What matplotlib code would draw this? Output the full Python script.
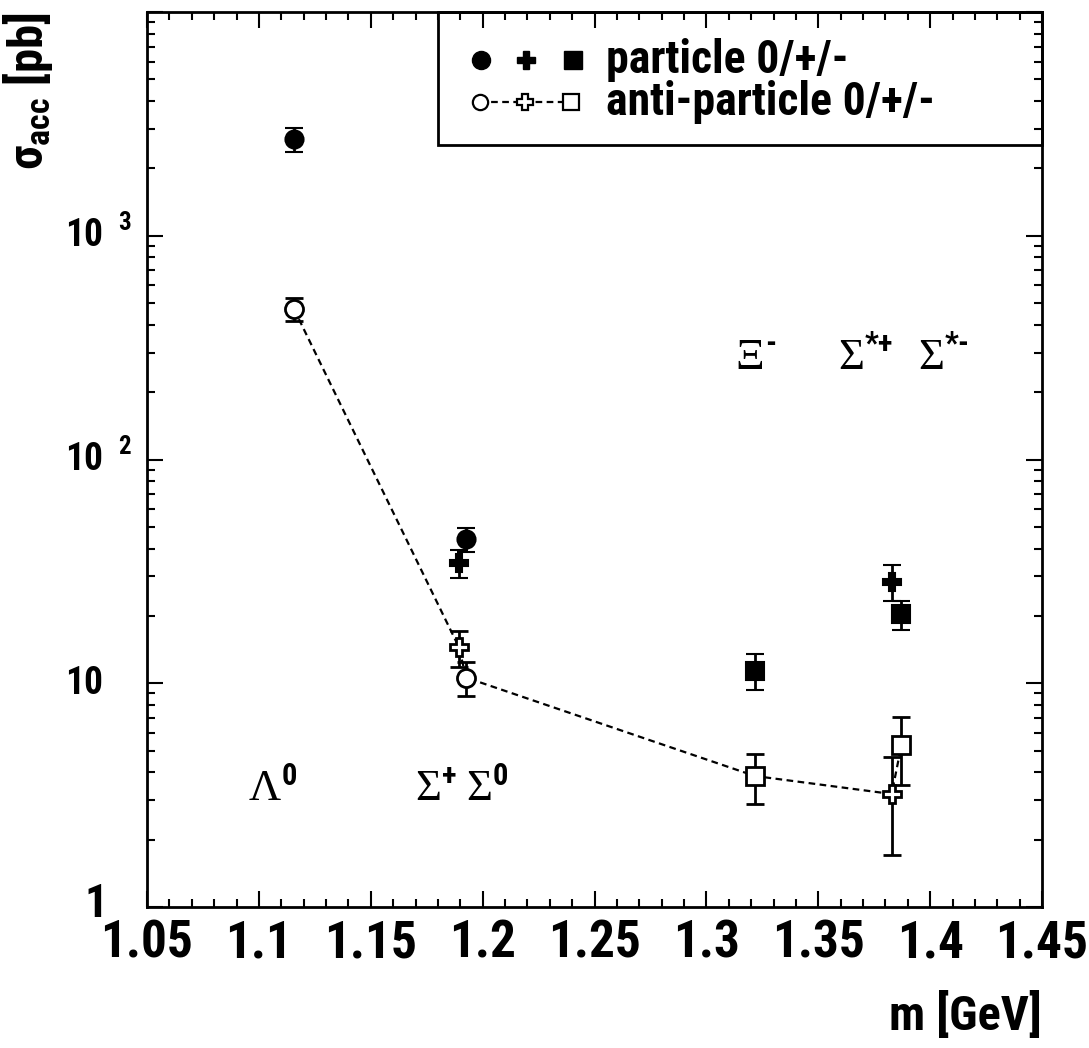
import matplotlib
matplotlib.use("Agg")
import matplotlib.pyplot as plt
from matplotlib import font_manager as fm
from matplotlib.patches import Rectangle
from matplotlib.lines import Line2D
from matplotlib.ticker import FixedLocator, NullFormatter, LogLocator
from matplotlib.transforms import blended_transform_factory

# ---------------------------------------------------------------- data
# hyperon masses [GeV]
mass = [1.1157, 1.1894, 1.1926, 1.3217, 1.3828, 1.3872]
# marker per state: Lambda0, Sigma+, Sigma0, Xi-, Sigma*+, Sigma*-
markers = ["o", "P", "o", "s", "P", "s"]
# accepted cross sections [pb]
particle_sigma = [2700, 34.5, 44.0, 11.4, 28.4, 20.3]
particle_err = [330, 5.0, 5.5, 2.1, 5.2, 3.0]
anti_sigma = [470, 14.5, 10.6, 3.85, 3.2, 5.3]
anti_err = [55, 2.7, 1.8, 0.97, 1.5, 1.8]

x_ticks = [1.05, 1.1, 1.15, 1.2, 1.25, 1.3, 1.35, 1.4, 1.45]
x_tick_labels = ["1.05", "1.1", "1.15", "1.2", "1.25", "1.3", "1.35", "1.4", "1.45"]

# state labels: (x, y, base symbol, superscript)
state_labels = [
    (1.0955, 3.0, "\u039b", "0"),
    (1.170, 3.0, "\u03a3", "+"),
    (1.1925, 3.0, "\u03a3", "0"),
    (1.3130, 255, "\u039e", "-"),
    (1.3590, 255, "\u03a3", "*+"),
    (1.3945, 255, "\u03a3", "*-"),
]


def first_installed(candidates, fallback):
    names = {f.name for f in fm.fontManager.ttflist}
    for c in candidates:
        if c in names:
            return c
    return fallback


SANS = first_installed(["Liberation Sans Narrow", "Roboto Condensed",
                        "Open Sans Condensed", "DejaVu Sans Condensed"],
                       "Liberation Sans")
SERIF = "Liberation Serif"

plt.rcParams["font.family"] = [SANS, "DejaVu Sans"]
plt.rcParams["mathtext.fontset"] = "custom"
plt.rcParams["mathtext.rm"] = SANS + ":bold"
plt.rcParams["mathtext.it"] = SANS + ":bold"
plt.rcParams["mathtext.bf"] = SANS + ":bold"

W, H = 1089, 1048
fig = plt.figure(figsize=(W / 100, H / 100), dpi=100)
L, R, T, B = 147, 1042, 12, 907
ax = fig.add_axes([L / W, 1 - B / H, (R - L) / W, (B - T) / H])

ax.set_xlim(1.05, 1.45)
ax.set_yscale("log")
ax.set_ylim(1, 1e4)

for s in ax.spines.values():
    s.set_linewidth(2.0)

# ---------------------------------------------------------------- ticks
ax.xaxis.set_major_locator(FixedLocator(x_ticks))
ax.xaxis.set_minor_locator(FixedLocator([1.05 + 0.01 * i for i in range(41)]))
ax.set_xticklabels(x_tick_labels)
ax.yaxis.set_major_locator(LogLocator(base=10, numticks=10))
ax.yaxis.set_minor_locator(LogLocator(base=10, subs=range(2, 10), numticks=20))
ax.yaxis.set_major_formatter(NullFormatter())
ax.yaxis.set_minor_formatter(NullFormatter())
ax.tick_params(which="both", direction="in", top=True, right=True, width=1.5)
ax.tick_params(which="major", length=11.5)
ax.tick_params(which="minor", length=5.8)
ax.tick_params(axis="x", which="major", labelsize=37, pad=8)
for lab in ax.get_xticklabels():
    lab.set_fontweight("bold")

# y tick labels in "10 ^n" style
ytr = blended_transform_factory(ax.transAxes, ax.transData)
for val, sup in [(1000, "3"), (100, "2")]:
    ax.text(-0.049, val, "10", transform=ytr, ha="right", va="center",
            fontsize=27, fontweight="bold")
    ax.text(-0.032, val * 1.06, sup, transform=ytr, ha="left",
            va="baseline", fontsize=18, fontweight="bold")
ax.text(-0.049, 10, "10", transform=ytr, ha="right", va="center",
        fontsize=27, fontweight="bold")
ax.text(-0.044, 0.905, "1", transform=ytr, ha="right", va="baseline",
        fontsize=33, fontweight="bold")

# ---------------------------------------------------------------- points
ms = 13
cap = 6.5
for x, mk, y, e in zip(mass, markers, particle_sigma, particle_err):
    ax.errorbar([x], [y], yerr=[e], fmt=mk, color="black", mfc="black",
                mec="black", ms=ms, mew=1.5, elinewidth=2.0, capsize=cap,
                capthick=2.0, zorder=3)

ax.plot(mass, anti_sigma, ls=(0, (3, 2)), color="black", lw=1.6, zorder=2)
for x, mk, y, e in zip(mass, markers, anti_sigma, anti_err):
    ax.errorbar([x], [y], yerr=[e], fmt="none", ecolor="black",
                elinewidth=2.0, capsize=cap, capthick=2.0, zorder=3)
    ax.plot([x], [y], marker=mk, ms=ms, mfc="white", mec="black", mew=2.0,
            ls="none", zorder=4)

# ---------------------------------------------------------------- state labels
for x, y, base, sup in state_labels:
    t = ax.text(x, y, base, family=SERIF, fontsize=32, ha="left",
                va="baseline")
    ax.annotate(sup, xy=(1, 1), xycoords=t, xytext=(0.5, 6),
                textcoords="offset points", ha="left", va="top",
                fontsize=22, fontweight="bold")

# ---------------------------------------------------------------- legend box
def px(xp, yp):
    return ((xp - L) / (R - L), (B - yp) / (B - T))


x0, y0 = px(438, 145)
ax.add_patch(Rectangle((x0, y0), 1 - x0, 1 - y0, transform=ax.transAxes,
                       fill=False, lw=2.0, ec="black", zorder=5,
                       clip_on=False))
row1 = 60
row2 = 102
for xp, mk in zip([481, 526, 573], ["o", "P", "s"]):
    ax.plot(*px(xp, row1), marker=mk, ms=13, color="black",
            transform=ax.transAxes, clip_on=False, zorder=6)
lx = [px(xp, row2)[0] for xp in (480, 525, 571)]
ly = px(0, row2)[1]
ax.add_line(Line2D(lx, [ly] * 3, ls=(0, (3, 2)), color="black", lw=1.6,
                   transform=ax.transAxes, zorder=6))
for xv, mk in zip(lx, ["o", "P", "s"]):
    ax.plot(xv, ly, marker=mk, ms=11, mfc="white", mec="black", mew=1.6,
            transform=ax.transAxes, clip_on=False, zorder=7)
ax.text(*px(606, row1), "particle 0/+/-", transform=ax.transAxes,
        ha="left", va="center", fontsize=33, fontweight="bold")
ax.text(*px(606, row2), "anti-particle 0/+/-", transform=ax.transAxes,
        ha="left", va="center", fontsize=33, fontweight="bold")

# ---------------------------------------------------------------- axis titles
ax.set_ylabel(r"$\sigma_{acc}$ [pb]", loc="top", fontsize=35,
              fontweight="bold")
ax.yaxis.set_label_coords(-0.103, 1.0)
ax.set_xlabel("m [GeV]", loc="right", fontsize=35, fontweight="bold")
ax.xaxis.set_label_coords(1.0, -0.095)

fig.savefig("out.png", dpi=100)
